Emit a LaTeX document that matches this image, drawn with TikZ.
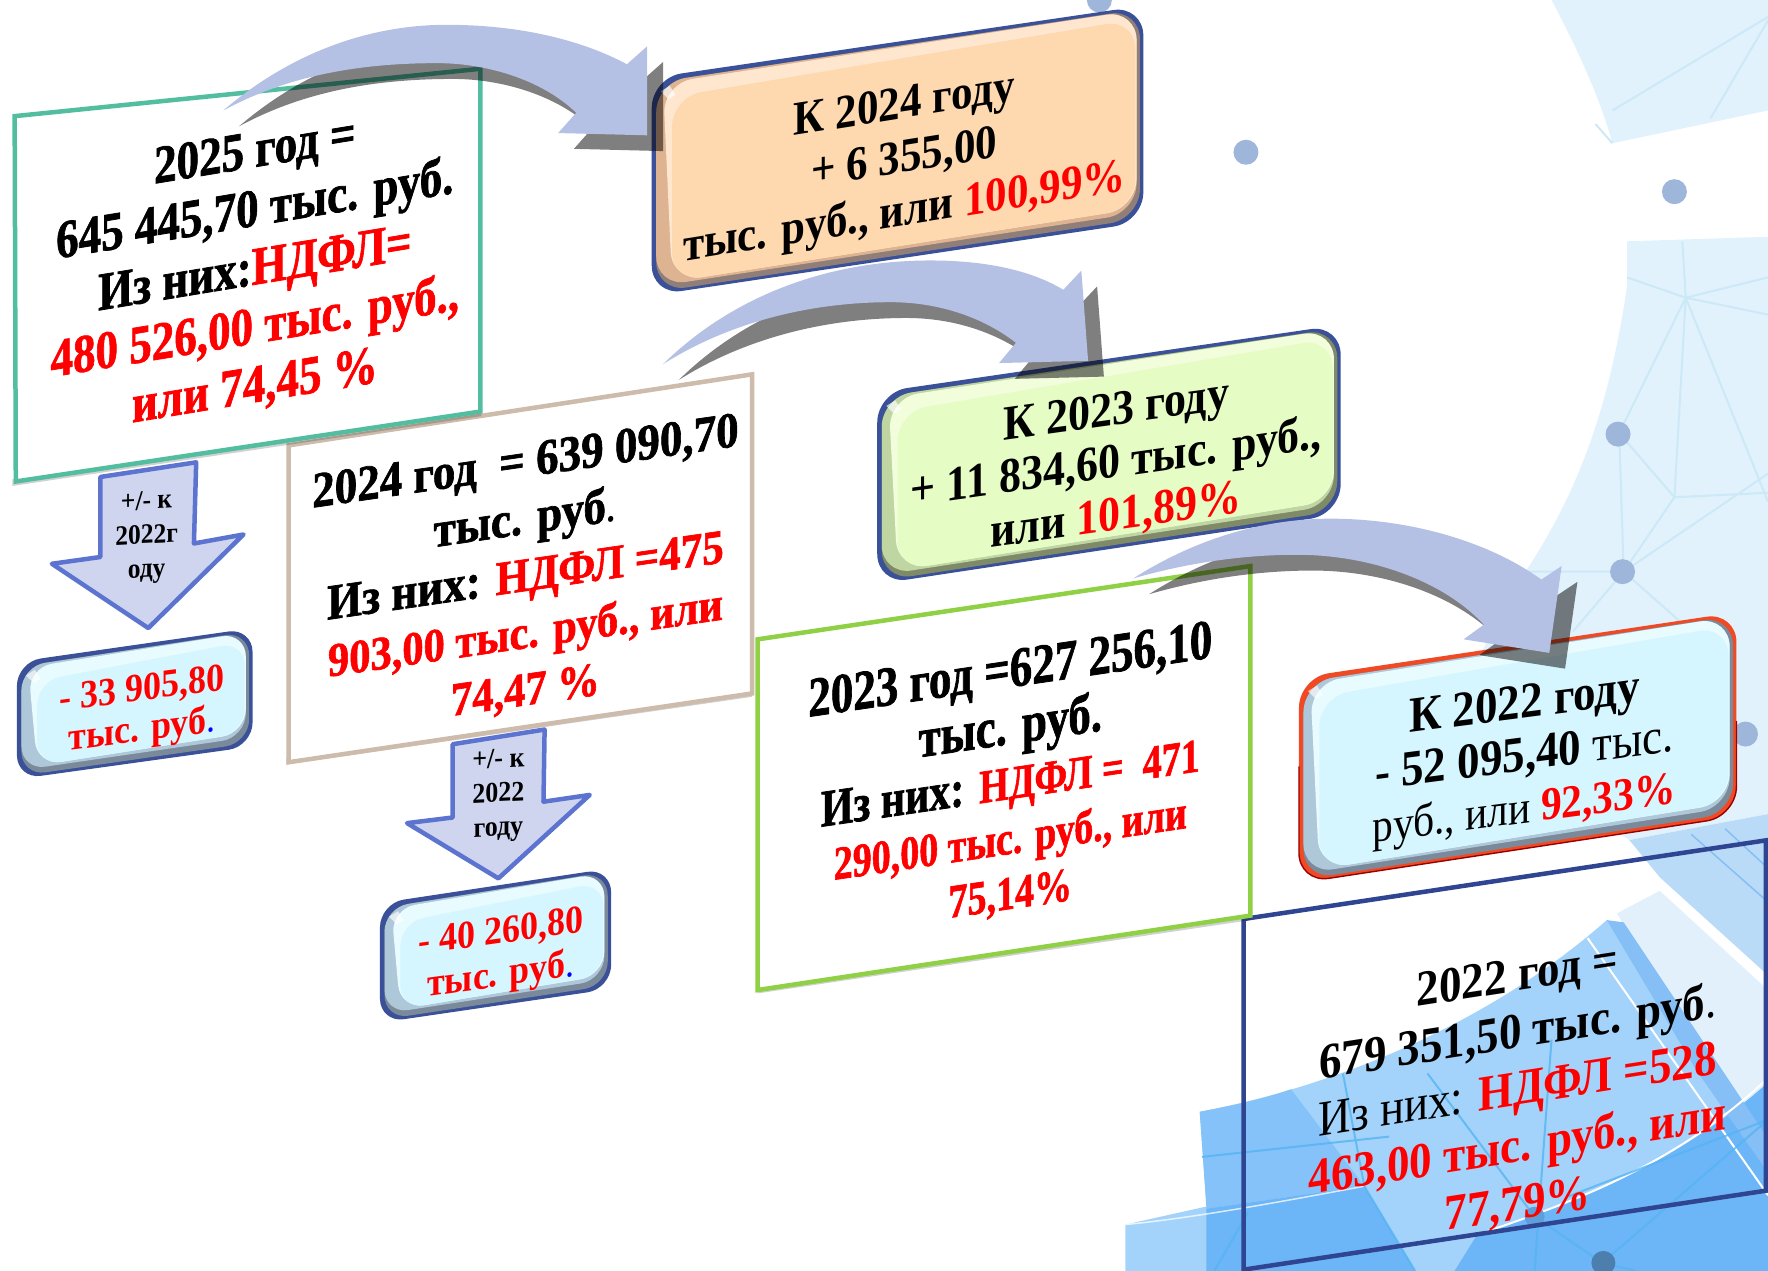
\documentclass[tikz,border=0pt]{standalone}
\usepackage{fontspec}
\setmainfont{Liberation Serif}
\newfontfamily\hvfont[BoldFeatures={FakeBold=1.4}]{Liberation Serif}
\usetikzlibrary{calc}
\definecolor{navyb}{HTML}{3A5098}
\definecolor{tealb}{HTML}{52BE9F}
\definecolor{tanb}{HTML}{CDBBAB}
\definecolor{limeb}{HTML}{8FD044}
\definecolor{navyc}{HTML}{2F4591}
\definecolor{arrowb}{HTML}{B5C0E5}
\definecolor{dnf}{HTML}{CFD5EF}
\definecolor{dnb}{HTML}{5C74CF}
\definecolor{paleb}{HTML}{E1F2FC}
\definecolor{netl}{HTML}{CBE9F6}
\definecolor{netb}{HTML}{55B4F2}
\definecolor{midb}{HTML}{A3D3FB}
\definecolor{patchb}{HTML}{84C2F9}
\definecolor{deepb}{HTML}{6CB5F7}
\definecolor{bandb}{HTML}{85BFF5}
\definecolor{softb}{HTML}{B9DBF7}
\definecolor{paleb2}{HTML}{E2F0FB}
\definecolor{dotb}{HTML}{9DB6D9}
% bevel palettes: border / bottom shade / left band / top band / face
\definecolor{bdO}{HTML}{3A5098}\definecolor{shO}{HTML}{8F7F78}\definecolor{sdO}{HTML}{DDB391}\definecolor{tpO}{HTML}{FFE6CE}\definecolor{fcO}{HTML}{FED8AE}
\definecolor{bdG}{HTML}{3A5098}\definecolor{shG}{HTML}{7F8A68}\definecolor{sdG}{HTML}{BFD6A2}\definecolor{tpG}{HTML}{F1FDDB}\definecolor{fcG}{HTML}{E5FCC5}
\definecolor{bdC}{HTML}{3A5098}\definecolor{shC}{HTML}{7B8A9A}\definecolor{sdC}{HTML}{AFC8D9}\definecolor{tpC}{HTML}{E8FBFF}\definecolor{fcC}{HTML}{D6F6FF}
\definecolor{bdR}{HTML}{F04A24}\definecolor{shR}{HTML}{7B8A9A}\definecolor{sdR}{HTML}{AFC8D9}\definecolor{tpR}{HTML}{E8FBFF}\definecolor{fcR}{HTML}{D6F6FF}
\newcommand\hl[1]{\textcolor{red}{#1}}
\newcommand\dt[1]{\textcolor{blue}{\mdseries #1}}
\newcommand\rg[1]{{\mdseries #1}}
\newcommand\fs[2]{{\fontsize{#1}{#1}\selectfont #2}}
\newcommand\tb[1]{\begin{tabular}{@{}c@{}}#1\end{tabular}}
\newcommand\hv[1]{{\hvfont\bfseries\tb{#1}}}
% name, x, y, slope, yscale, size, leading, content
\newcommand\sltext[8]{\begin{scope}[shift={(#2,#3)},yslant=#4,yscale=#5]
\node[transform shape,inner sep=0pt,font=\fontsize{#6}{#7}\selectfont\bfseries] (#1) at (0,0) {#8};
\end{scope}}
% palette, TL, TR, BR, BL
\newcommand\bevelbox[9]{%
\fill[bd#1,rounded corners=\bvr] (#2,#3)--(#4,#5)--(#6,#7)--(#8,#9)--cycle;
\fill[sh#1,rounded corners=\bvr] ({#2+4},{#3+4})--({#4-3},{#5+3})--({#6-3},{#7-3})--({#8+4},{#9-3})--cycle;
\fill[sd#1,rounded corners=\bvr] ({#2+4},{#3+4})--({#4-6},{#5+4})--({#6-6},{#7-8})--({#8+4},{#9-8})--cycle;
\fill[tp#1,rounded corners=\bvr] ({#2+10},{#3+5})--({#4-6},{#5+4})--({#6-6},{#7-12})--({#8+18},{#9-12})--cycle;
\fill[fc#1,rounded corners=\bvr] ({#2+18},{#3+17})--({#4-7},{#5+12})--({#6-7},{#7-12})--({#8+18},{#9-12})--cycle;
\fill[white,opacity=.65] ({#2+8},{#3+12})--({#2+16},{#3+7})--({#2+21},{#3+15})--({#2+15},{#3+19})--cycle;
}
\begin{document}
\begin{tikzpicture}[x=1.1276pt,y=-1.1276pt,
  whitebox/.style={fill=white,line width=4.5pt,line join=miter},
  softedge/.style={fill=black,opacity=.18},
  arrowface/.style={fill=arrowb},
  arrowshade/.style={fill=black,opacity=.5},
  downarrow/.style={fill=dnf,draw=dnb,line width=4.5pt,line join=round},
  netline/.style={draw=netl,line width=2pt},
  bgdot/.style={circle,fill=dotb,inner sep=0pt,minimum size=25pt}]
\useasboundingbox (0,0) rectangle (1568,1127.2);
\clip (0,0) rectangle (1568,1127.2);
% ----- background -----
\fill[paleb] (1376,0) .. controls (1400,45) and (1420,90) .. (1430,127) -- (1568,98) -- (1568,0) -- cycle;
\draw[netline] (1430,98) -- (1568,15) (1517,105) -- (1568,18) (1430,127) -- (1415,110);
\fill[paleb] (1443,214) -- (1568,210) -- (1568,722) -- (1445,745) -- (1280,640) -- (1353,507) .. controls (1390,450) and (1425,380) .. (1443,253) -- cycle;
\draw[netline] (1492,214) -- (1495,264) (1443,246) -- (1495,264) -- (1568,246) (1495,264) -- (1568,279)
  (1495,264) -- (1485,441) (1495,264) -- (1436,384) (1495,264) -- (1568,445)
  (1485,441) -- (1436,384) (1485,441) -- (1440,507) (1436,384) -- (1440,507) (1485,441) -- (1568,437)
  (1440,507) -- (1353,507) (1440,507) -- (1568,420) (1440,507) -- (1500,560) (1440,507) -- (1395,560);
\fill[softb] (1445,745) -- (1568,722) -- (1568,865) -- (1472,778) -- cycle;
\draw[draw=bandb,line width=1.5pt] (1500,740) -- (1568,800) (1530,735) -- (1568,770);
\fill[paleb2] (1434,810) -- (1472,790) -- (1568,878) -- (1568,1045) -- cycle;
\fill[midb] (1425,816) -- (1568,1030) -- (1568,1127.2) -- (998,1127.2) -- (998,1086) -- (1070,1070) -- (1064,986) .. controls (1200,960) and (1330,900) .. cycle;
\fill[patchb] (1064,986) .. controls (1095,980) and (1120,975) .. (1145,966) -- (1210,1052) -- (1070,1072) -- cycle;
\fill[deepb] (1070,1072) -- (1210,1052) -- (1255,1127.2) -- (1070,1127.2) -- cycle;
\fill[deepb] (1290,1127.2) -- (1310,1095) .. controls (1400,1065) and (1490,1030) .. (1568,960) -- (1568,1127.2) -- cycle;
\fill[bandb] (1425,816) -- (1440,818) -- (1568,1010) -- (1568,1040) -- (1505,950) -- cycle;
\draw[white,line width=2pt] (1408,832) -- (1568,1060);
\draw[white,line width=2pt] (1310,1095) .. controls (1400,1065) and (1490,1030) .. (1568,956);
\draw[white,line width=1.5pt,opacity=.75] (998,1086) .. controls (1060,1080) and (1140,1065) .. (1210,1052);
\begin{scope}[draw=netb,line width=2pt,opacity=.8]
\draw (1191,952) -- (1210,1052) -- (1255,1127) (1266,952) -- (1361,1079) (1376,922) -- (1361,1127) (1066,1026) -- (1232,1008)
  (1361,1079) -- (1421,1120) -- (1568,993) (1391,1061) -- (1568,993) (1107,1075) -- (1077,1127) (1421,1120) -- (1450,1127);
\end{scope}
\foreach \nm/\dx/\dy in {dA/975/0,dB/1105/135,dC/1485/170,dD/1435/385,dE/1439/507,dF/1548/651}
  \node[bgdot] (\nm) at (\dx,\dy) {};
\node[circle,fill=black!30!deepb,inner sep=0pt,minimum size=24pt] (dG) at (1422,1120) {};
\node[circle,fill=black!12!deepb,inner sep=0pt,minimum size=20pt] (dH) at (1361,1079) {};
% ----- plain frames -----
\fill[softedge] (254,678) -- (667,618) -- (668,612) -- (254,672) -- cycle;
\filldraw[whitebox,draw=tanb] (256,395) -- (667,332) -- (667,615) -- (256,676) -- cycle;
\draw[navyc,line width=4.5pt] (1103,815) -- (1568,745) (1103,815) -- (1103,1126) -- (1566,1056) -- (1566,745);
\fill[softedge] (672,881) -- (1109,816) -- (1109,810) -- (672,875) -- cycle;
\filldraw[whitebox,draw=limeb] (672,567) -- (1109,502) -- (1109,812) -- (672,878) -- cycle;
\fill[softedge] (11,431) -- (427,369) -- (427,363) -- (11,425) -- cycle;
\filldraw[whitebox,draw=tealb] (13,103) -- (426,61) -- (426,365) -- (14,427) -- cycle;
% ----- bevelled boxes -----
\def\bvr{30pt}
\bevelbox{O}{578}{69}{1014}{5}{1014}{197}{578}{262}
\bevelbox{G}{778}{348}{1189}{288}{1189}{456}{778}{518}
\bevelbox{R}{1152}{601}{1540}{543}{1540}{724}{1152}{783}
\draw[red!60!black,line width=1.4pt,line cap=round,rounded corners=30pt] (1152,680) -- (1152,783) -- (1540,724) -- (1540,640);
\def\bvr{24pt}
\bevelbox{C}{15}{587}{224}{557}{224}{662}{15}{691}
\bevelbox{C}{337}{801}{542}{770}{542}{877}{337}{907}
% ----- vertical block arrows -----
\draw[downarrow] (89,423) -- (174,410) -- (172,482) -- (216,474) -- (131.5,557) -- (46,500) -- (89,494) -- cycle;
\draw[downarrow] (401.5,660) -- (483,647) -- (482,711) -- (523,705) -- (442,779) -- (361,730) -- (401.5,725) -- cycle;
% ----- curved block arrows -----
\def\arrowone{(198,98) .. controls (260,45) and (330,22) .. (396,22) .. controls (460,22) and (515,35) .. (556,57) -- (574,41) -- (574,120) -- (495,118) -- (511,100) .. controls (480,70) and (430,56) .. (388,56) .. controls (310,56) and (250,70) .. (198,98) -- cycle}
\def\arrowtwo{(588,323) .. controls (650,262) and (735,231) .. (825,231) .. controls (875,231) and (915,240) .. (943,257) -- (959,240) -- (965,320) -- (886,322) -- (901,304) .. controls (870,280) and (830,268) .. (790,268) .. controls (710,268) and (640,290) .. (588,323) -- cycle}
\def\arrowthree{(1005,513) .. controls (1060,478) and (1120,460) .. (1180,460) .. controls (1250,460) and (1320,480) .. (1367,514) -- (1385,502) -- (1374,579) -- (1298,567) -- (1316,554) .. controls (1280,515) and (1215,492) .. (1150,492) .. controls (1100,492) and (1050,500) .. (1005,513) -- cycle}
\begin{scope}[shift={(14,14)}]
\fill[arrowshade] \arrowone;
\fill[arrowshade] \arrowtwo;
\fill[arrowshade] \arrowthree;
\end{scope}
\fill[arrowface] \arrowone;
\fill[arrowface] \arrowtwo;
\fill[arrowface] \arrowthree;
% ----- texts -----
\sltext{t25}{226}{242}{0.165}{1.2}{45}{49}{\hv{2025 год =\\645 445,70 тыс. руб.\\Из них:\hl{НДФЛ=}\\\hl{480 526,00 тыс. руб.,}\\\hl{или 74,45 \%}}}
\sltext{t24}{466}{514}{0.145}{1.12}{45}{51}{\hv{2024 год \ = 639 090,70\\тыс. руб\rg{.}\\Из них: \fs{43}{\hl{НДФЛ =475}}\\\fs{42.5}{\hl{903,00 тыс. руб., или}}\\\fs{42.5}{\hl{74,47 \%}}}}
\sltext{t23}{896}{698}{0.147}{1.25}{45}{44}{\hv{2023 год =627 256,10\\тыс. руб.\\\fs{42}{Из них:} \fs{38}{\hl{НДФЛ = \ 471}}\\\fs{38}{\hl{290,00 тыс. руб., или}}\\\fs{38}{\hl{75,14\%}}}}
\sltext{t22}{1346}{970}{0.156}{1.12}{45}{51}{\tb{2022 год =\\679 351,50 тыс. руб\rg{.}\\\rg{Из них:} \hl{НДФЛ =528}\\\hl{463,00 тыс. руб., или}\\\hl{77,79\%}}}
\sltext{tO}{802}{143}{0.16}{1.12}{43}{48}{\tb{К 2024 году\\+ 6 355,00\\тыс. руб., или \hl{100,99\%}}}
\sltext{tG}{990}{414}{0.14}{1.12}{44}{47}{\tb{К 2023 году\\+ 11 834,60 тыс. руб.,\\или \hl{101,89\%}}}
\sltext{tR}{1352}{674}{0.13}{1.12}{45}{47}{\tb{К 2022 году\\- 52 095,40 \rg{тыс.}\\\fs{41.5}{\rg{руб., или} \hl{92,33\%}}}}
\sltext{tC}{126}{632}{0.13}{1.1}{36}{37}{\tb{\hl{- 33 905,80}\\\hl{тыс. руб}\dt{.}}}
\sltext{tD}{444}{848}{0.14}{1.1}{36}{39}{\tb{\hl{- 40 260,80}\\\hl{тыс. руб}\dt{.}}}
\sltext{tA}{130}{476}{0.05}{1.1}{25.5}{31}{\tb{+/- к\\2022г\\оду}}
\sltext{tB}{442}{705}{0.05}{1.1}{26}{31}{\tb{+/- к\\2022\\году}}
\end{tikzpicture}
\end{document}
